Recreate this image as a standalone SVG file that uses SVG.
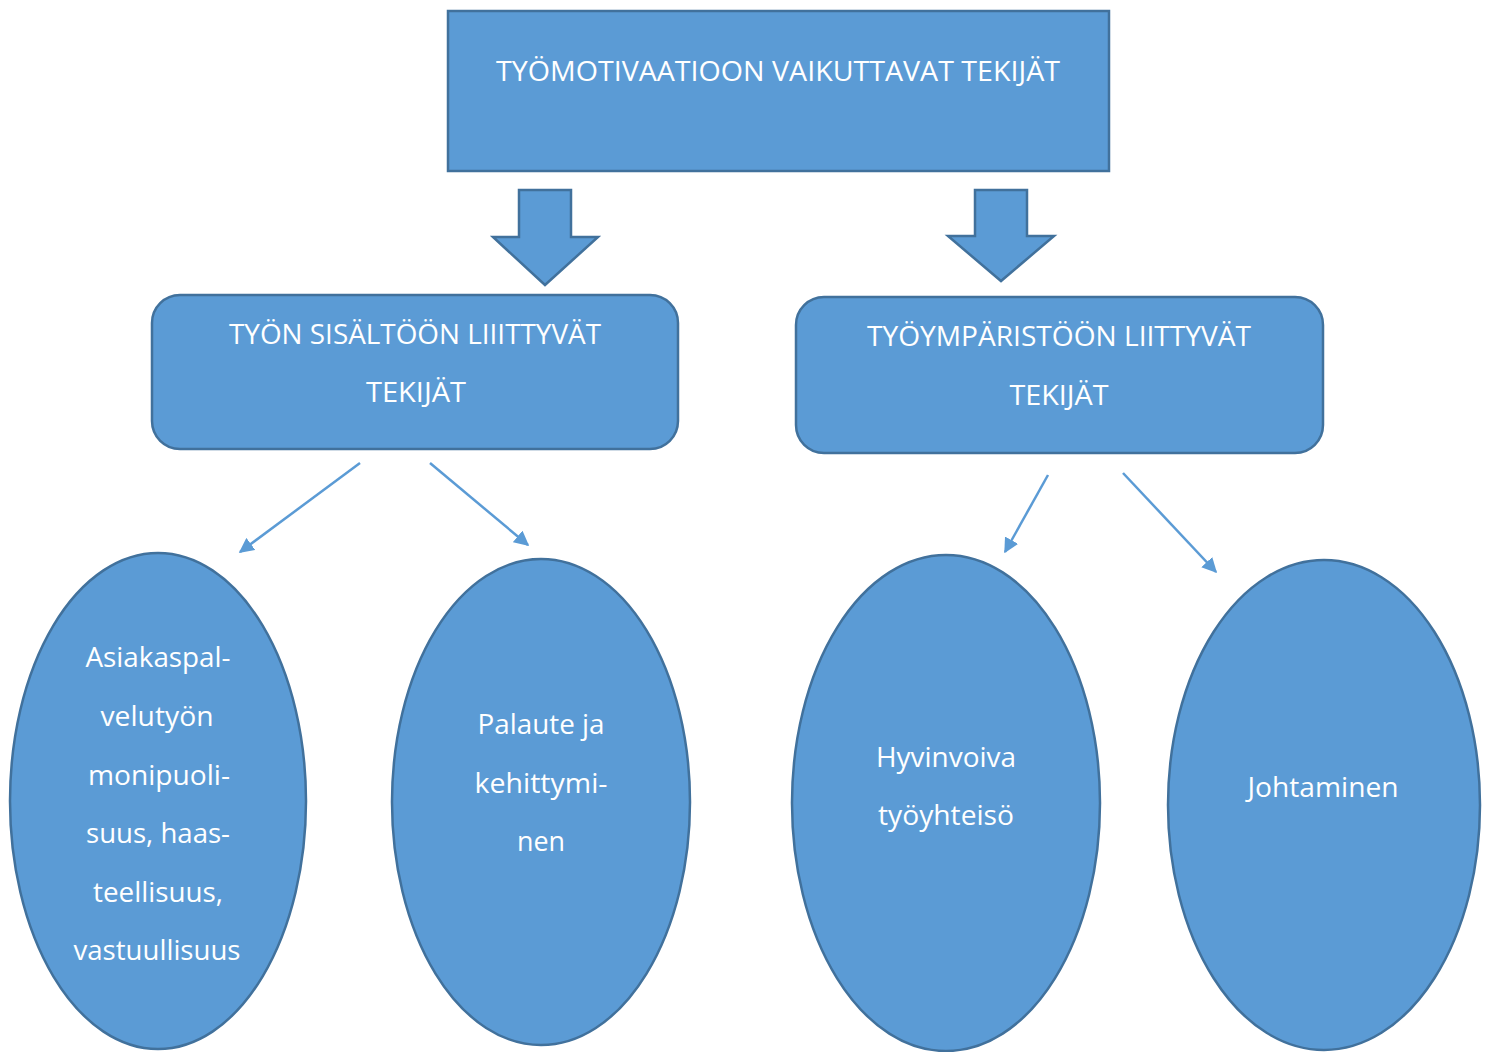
<svg xmlns="http://www.w3.org/2000/svg" width="1487" height="1052" viewBox="0 0 1487 1052">
<style>
.n{fill:#5B9BD5;stroke:#41719C;stroke-width:2.5}
.t{fill:#FFFFFF;font-family:"Open Sans","Liberation Sans",sans-serif;font-size:28px;text-anchor:middle}
.c{stroke:#5B9BD5;stroke-width:2.5;fill:none;marker-end:url(#ah)}
</style>
<defs>
<marker id="ah" viewBox="0 0 10 10" refX="9" refY="5" markerWidth="6" markerHeight="6" orient="auto" markerUnits="strokeWidth">
<path d="M0,0 L10,5 L0,10 Z" fill="#5B9BD5"/>
</marker>
</defs>
<rect width="1487" height="1052" fill="#FFFFFF"/>
<g id="top">
<rect class="n" x="448" y="11" width="661" height="160"/>
<text class="t" x="778" y="81" textLength="564" lengthAdjust="spacingAndGlyphs">TYÖMOTIVAATIOON VAIKUTTAVAT TEKIJÄT</text>
</g>
<g id="connectors">
<path class="n" d="M519,190 H571 V237 H598 L545,285 L493,237 H519 Z"/>
<path class="n" d="M975,190 H1027 V236 H1054 L1001,281 L948,236 H975 Z"/>
<line class="c" x1="360" y1="463" x2="240" y2="552"/>
<line class="c" x1="430" y1="463" x2="528" y2="545"/>
<line class="c" x1="1048" y1="475" x2="1005" y2="552"/>
<line class="c" x1="1123" y1="473" x2="1216" y2="572"/>
</g>
<g id="sisalto">
<rect class="n" x="152" y="295" width="526" height="154" rx="28"/>
<text class="t" x="415" y="344" textLength="372" lengthAdjust="spacingAndGlyphs">TYÖN SISÄLTÖÖN LIIITTYVÄT</text>
<text class="t" x="416" y="402" textLength="100" lengthAdjust="spacingAndGlyphs">TEKIJÄT</text>
</g>
<g id="ymparisto">
<rect class="n" x="796" y="297" width="527" height="156" rx="28"/>
<text class="t" x="1059" y="346" textLength="384" lengthAdjust="spacingAndGlyphs">TYÖYMPÄRISTÖÖN LIITTYVÄT</text>
<text class="t" x="1059" y="405" textLength="99" lengthAdjust="spacingAndGlyphs">TEKIJÄT</text>
</g>
<g id="asiakas">
<ellipse class="n" cx="158" cy="801" rx="148" ry="248"/>
<text class="t" x="158" y="667" textLength="145" lengthAdjust="spacingAndGlyphs">Asiakaspal-</text>
<text class="t" x="157" y="726" textLength="113" lengthAdjust="spacingAndGlyphs">velutyön</text>
<text class="t" x="159" y="785" textLength="142" lengthAdjust="spacingAndGlyphs">monipuoli-</text>
<text class="t" x="158" y="843" textLength="144" lengthAdjust="spacingAndGlyphs">suus, haas-</text>
<text class="t" x="158" y="902" textLength="130" lengthAdjust="spacingAndGlyphs">teellisuus,</text>
<text class="t" x="157" y="960" textLength="167" lengthAdjust="spacingAndGlyphs">vastuullisuus</text>
</g>
<g id="palaute">
<ellipse class="n" cx="541" cy="802" rx="149" ry="243"/>
<text class="t" x="541" y="734" textLength="127" lengthAdjust="spacingAndGlyphs">Palaute ja</text>
<text class="t" x="541" y="793" textLength="133" lengthAdjust="spacingAndGlyphs">kehittymi-</text>
<text class="t" x="541" y="851" textLength="48" lengthAdjust="spacingAndGlyphs">nen</text>
</g>
<g id="hyvinvoiva">
<ellipse class="n" cx="946" cy="803" rx="154" ry="248"/>
<text class="t" x="946" y="767" textLength="140" lengthAdjust="spacingAndGlyphs">Hyvinvoiva</text>
<text class="t" x="946" y="825" textLength="136" lengthAdjust="spacingAndGlyphs">työyhteisö</text>
</g>
<g id="johtaminen">
<ellipse class="n" cx="1324" cy="805" rx="156" ry="245"/>
<text class="t" x="1323" y="797" textLength="151" lengthAdjust="spacingAndGlyphs">Johtaminen</text>
</g>
</svg>
